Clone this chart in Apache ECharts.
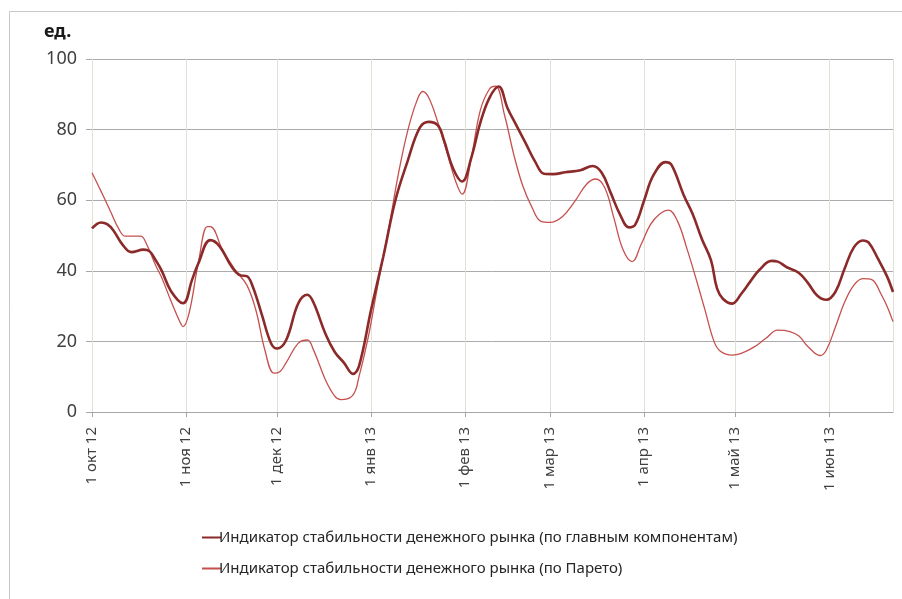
<!DOCTYPE html>
<html>
<head>
<meta charset="utf-8">
<script src="https://cdn.jsdelivr.net/npm/echarts@6/dist/echarts.min.js"></script>
<style>
  html, body { margin: 0; padding: 0; background: #fff; }
  #chart { width: 902px; height: 599px; }
</style>
</head>
<body>
<div id="chart"></div>
<script>
// month abbreviations used in the tick labels
const monthNames = ['янв', 'фев', 'мар', 'апр', 'май', 'июн', 'июл', 'авг', 'сен', 'окт', 'ноя', 'дек'];

const seriesNames = [
  'Индикатор стабильности денежного рынка (по главным компонентам)',
  'Индикатор стабильности денежного рынка (по Парето)'
];

// по главным компонентам
const mainDates = [
  '2012-10-01', '2012-10-04', '2012-10-06', '2012-10-08', '2012-10-11', '2012-10-14', '2012-10-18', '2012-10-20',
  '2012-10-22', '2012-10-24', '2012-10-27', '2012-10-31', '2012-11-03', '2012-11-05', '2012-11-09', '2012-11-12',
  '2012-11-16', '2012-11-19', '2012-11-21', '2012-11-23', '2012-11-26', '2012-11-29', '2012-12-01', '2012-12-04',
  '2012-12-08', '2012-12-11', '2012-12-13', '2012-12-17', '2012-12-20', '2012-12-23', '2012-12-26', '2012-12-28',
  '2013-01-01', '2013-01-05', '2013-01-09', '2013-01-13', '2013-01-17', '2013-01-20', '2013-01-23', '2013-01-25',
  '2013-01-28', '2013-01-31', '2013-02-03', '2013-02-06', '2013-02-09', '2013-02-12', '2013-02-15', '2013-02-18',
  '2013-02-21', '2013-02-24', '2013-02-27', '2013-03-02', '2013-03-06', '2013-03-11', '2013-03-15', '2013-03-18',
  '2013-03-21', '2013-03-24', '2013-03-27', '2013-03-29', '2013-04-01', '2013-04-04', '2013-04-08', '2013-04-10',
  '2013-04-14', '2013-04-17', '2013-04-20', '2013-04-23', '2013-04-25', '2013-04-27', '2013-04-30', '2013-05-03',
  '2013-05-06', '2013-05-09', '2013-05-13', '2013-05-15', '2013-05-18', '2013-05-22', '2013-05-25', '2013-05-28',
  '2013-05-31', '2013-06-03', '2013-06-06', '2013-06-09', '2013-06-12', '2013-06-14', '2013-06-17', '2013-06-20',
  '2013-06-22'
];
const mainValues = [
  52, 53.7, 53.2, 51.5, 47.5, 45.3, 46, 45.5,
  43, 40, 34.3, 30.8, 37.5, 42, 48.7, 47,
  41.2, 38.7, 38.5, 35.5, 27.5, 19.5, 18, 20.4,
  30.8, 33.2, 31, 22, 17, 14, 10.8, 13,
  29, 44, 60, 71, 80.5, 82.2, 81.2, 77,
  69, 65.3, 72, 82, 89, 92.2, 86, 81,
  76, 71, 67.5, 67.4, 67.9, 68.5, 69.7, 67.8,
  62, 56, 52.3, 53, 60, 67, 70.8, 70,
  61.5, 56, 49, 43, 35, 32, 30.7, 33.5,
  37, 40.3, 42.8, 42.6, 41, 39.4, 36.5, 33,
  31.8, 34, 40.5, 46.5, 48.6, 48, 43.5, 38.5,
  34
];

// по Парето
const paretoDates = [
  '2012-10-01', '2012-10-04', '2012-10-07', '2012-10-10', '2012-10-12', '2012-10-17', '2012-10-19', '2012-10-22',
  '2012-10-24', '2012-10-27', '2012-10-30', '2012-10-31', '2012-11-02', '2012-11-05', '2012-11-08', '2012-11-09',
  '2012-11-13', '2012-11-17', '2012-11-21', '2012-11-24', '2012-11-27', '2012-11-30', '2012-12-02', '2012-12-04',
  '2012-12-08', '2012-12-11', '2012-12-13', '2012-12-17', '2012-12-20', '2012-12-22', '2012-12-26', '2012-12-28',
  '2012-12-31', '2013-01-03', '2013-01-07', '2013-01-10', '2013-01-13', '2013-01-16', '2013-01-18', '2013-01-20',
  '2013-01-23', '2013-01-26', '2013-01-29', '2013-01-31', '2013-02-03', '2013-02-06', '2013-02-09', '2013-02-11',
  '2013-02-14', '2013-02-17', '2013-02-20', '2013-02-23', '2013-02-26', '2013-03-01', '2013-03-05', '2013-03-09',
  '2013-03-13', '2013-03-16', '2013-03-19', '2013-03-22', '2013-03-25', '2013-03-28', '2013-03-31', '2013-04-03',
  '2013-04-06', '2013-04-09', '2013-04-12', '2013-04-15', '2013-04-18', '2013-04-21', '2013-04-24', '2013-04-26',
  '2013-04-30', '2013-05-03', '2013-05-07', '2013-05-11', '2013-05-15', '2013-05-19', '2013-05-22', '2013-05-25',
  '2013-05-29', '2013-05-31', '2013-06-03', '2013-06-06', '2013-06-09', '2013-06-12', '2013-06-15', '2013-06-18',
  '2013-06-20', '2013-06-22'
];
const paretoValues = [
  67.8, 62.5, 57, 51.6, 49.8, 49.8, 47.5, 41.5,
  38, 31.5, 25.5, 24.2, 28, 42, 52.5, 52.5,
  46, 40.5, 36, 28.9, 17.5, 11, 11.5, 14,
  19.5, 20.4, 17.6, 9, 4.5, 3.5, 4.8, 10,
  21, 35, 53, 67.5, 79.5, 88, 90.8, 89,
  82, 73.5, 65, 61.7, 72, 85.5, 91.5, 92.3,
  84, 73, 64, 58, 54, 53.7, 55.3, 59.5,
  64.5, 66, 63.5, 55, 46, 42.6, 47.5, 53,
  56, 57.2, 54, 46.5, 38, 29, 20, 17.3,
  16.1, 16.6, 18.3, 20.8, 23.2, 22.8, 21.5, 18.5,
  16, 17.5, 24, 31, 35.8, 37.8, 37.5, 33.5,
  30, 25.6
];

const DAY = 24 * 3600 * 1000;

function pairs(dates, values) {
  return dates.map((d, i) => [d, values[i]]);
}

const chart = echarts.init(document.getElementById('chart'), null, { renderer: 'canvas' });

chart.setOption({
  backgroundColor: '#fff',
  animation: false,
  textStyle: { fontFamily: 'Noto Sans' },
  graphic: [
    {
      type: 'rect',
      shape: { x: 9.5, y: 11.5, width: 1000, height: 1000 },
      style: { fill: 'none', stroke: '#c8c8c8', lineWidth: 1 }
    },
    {
      type: 'text',
      left: 44,
      top: 23,
      style: { text: 'ед.', fontSize: 18, fontWeight: 'bold', fill: '#1a1a1a', fontFamily: 'Noto Sans' }
    }
  ],
  grid: { left: 92, top: 59, right: 9, bottom: 187 },
  legend: {
    orient: 'vertical',
    left: 196,
    top: 525,
    itemGap: 16,
    itemWidth: 19,
    itemHeight: 2,
    textStyle: { fontSize: 15, color: '#262626', padding: [0, 0, 0, -7] },
    data: seriesNames
  },
  xAxis: {
    type: 'time',
    min: '2012-10-01',
    max: '2013-06-22',
    splitNumber: 9,
    minInterval: 28 * DAY,
    maxInterval: 31 * DAY,
    axisLine: { lineStyle: { color: '#a6a6a6' } },
    axisTick: { show: true, length: 5, lineStyle: { color: '#a6a6a6' } },
    splitLine: { show: true, lineStyle: { color: '#e3e0d6', width: 1 } },
    axisLabel: {
      rotate: 90,
      margin: 15,
      fontSize: 15,
      color: '#404040',
      showMinLabel: true,
      showMaxLabel: false,
      padding: [0, 0, 0, 0],
      formatter: function (value) {
        const d = new Date(value);
        if (d.getDate() !== 1) return '';
        return '1 ' + monthNames[d.getMonth()] + ' ' + String(d.getFullYear()).slice(2);
      }
    }
  },
  yAxis: {
    type: 'value',
    min: 0,
    max: 100,
    interval: 20,
    axisLine: { show: false },
    axisTick: { show: true, length: 6, lineStyle: { color: '#a6a6a6' } },
    splitLine: { lineStyle: { color: '#ababab', width: 1 } },
    axisLabel: { fontSize: 18, color: '#404040', margin: 15 }
  },
  series: [
    {
      name: seriesNames[0],
      type: 'line',
      data: pairs(mainDates, mainValues),
      smooth: 0.4,
      symbol: 'none',
      z: 3,
      lineStyle: { color: '#8c2a2a', width: 2.6 },
      itemStyle: { color: '#8c2a2a' }
    },
    {
      name: seriesNames[1],
      type: 'line',
      data: pairs(paretoDates, paretoValues),
      smooth: 0.4,
      symbol: 'none',
      z: 2,
      lineStyle: { color: '#c5504e', width: 1.3 },
      itemStyle: { color: '#c5504e' }
    }
  ]
});
</script>
</body>
</html>
